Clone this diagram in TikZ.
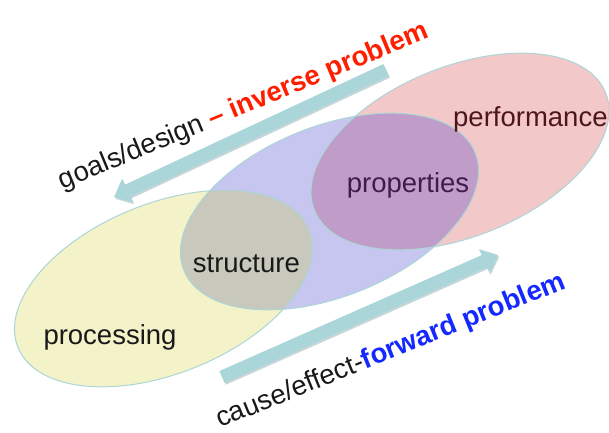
\documentclass[tikz,border=0pt]{standalone}
\usepackage{fontspec}
\setmainfont{Liberation Sans}
\usetikzlibrary{arrows.meta}
\definecolor{yellowE}{RGB}{243,242,200}
\definecolor{blueE}{RGB}{198,198,240}
\definecolor{redE}{RGB}{242,200,200}
\definecolor{greyE}{RGB}{200,200,188}
\definecolor{purpleE}{RGB}{192,156,200}
\definecolor{edgeE}{RGB}{172,214,214}
\definecolor{arrowE}{RGB}{170,214,218}
\definecolor{arrowS}{RGB}{130,165,170}
\definecolor{redT}{RGB}{255,30,0}
\definecolor{blueT}{RGB}{20,40,255}
\definecolor{textK}{RGB}{25,25,25}
\definecolor{textP}{RGB}{62,28,78}
\definecolor{textR}{RGB}{78,22,26}
\begin{document}
\begin{tikzpicture}[x=1pt,y=1pt,
  lbl/.style={inner sep=0pt, anchor=base west, font=\fontsize{27.5}{33}\selectfont},
  ellY/.style={rotate around={22:(163.5,143.5)}},
  ellB/.style={rotate around={22:(329.5,220.5)}},
  ellR/.style={rotate around={22:(460,280.5)}},
  rim/.style={draw=edgeE, line width=1pt},
  bigarrow/.style={line width=13pt, -{Triangle[width=25pt,length=15pt]}}]
\useasboundingbox (0,0) rectangle (609,432);
% fills
\fill[yellowE, ellY] (163.5,143.5) ellipse [x radius=157pt, y radius=85pt];
\fill[blueE, ellB] (329.5,220.5) ellipse [x radius=157pt, y radius=85pt];
\fill[redE, ellR] (460,280.5) ellipse [x radius=157pt, y radius=85pt];
% overlaps
\begin{scope}
  \clip[ellY] (163.5,143.5) ellipse [x radius=157pt, y radius=85pt];
  \fill[greyE, ellB] (329.5,220.5) ellipse [x radius=157pt, y radius=85pt];
\end{scope}
\begin{scope}
  \clip[ellB] (329.5,220.5) ellipse [x radius=157pt, y radius=85pt];
  \fill[purpleE, ellR] (460,280.5) ellipse [x radius=157pt, y radius=85pt];
\end{scope}
% outlines
\draw[rim, ellY] (163.5,143.5) ellipse [x radius=157pt, y radius=85pt];
\draw[rim, ellB] (329.5,220.5) ellipse [x radius=157pt, y radius=85pt];
\draw[rim, ellR] (460,280.5) ellipse [x radius=157pt, y radius=85pt];
% arrows
\coordinate (invTail) at (386,362);
\coordinate (invTip) at (114,235);
\coordinate (fwdTail) at (222,55);
\coordinate (fwdTip) at (498,177);
\draw[bigarrow, arrowS, opacity=0.45, transform canvas={shift={(1.2pt,-1.8pt)}}] (invTail) -- (invTip);
\draw[bigarrow, arrowS, opacity=0.45, transform canvas={shift={(1.2pt,-1.8pt)}}] (fwdTail) -- (fwdTip);
\draw[bigarrow, arrowE] (invTail) -- (invTip);
\draw[bigarrow, arrowE] (fwdTail) -- (fwdTip);
% labels
\node[lbl, text=textK] (processing) at (43.3,88) {processing};
\node[lbl, text=textK] (structure) at (192.7,159.3) {structure};
\node[lbl, text=textP] (properties) at (346.7,239.3) {properties};
\node[lbl, text=textR] (performance) at (453,305.3) {performance};
\node[lbl, text=textK, rotate=22.5] (inverse) at (62.8,242.4) {goals/design \textcolor{redT}{\bfseries – inverse problem}};
\node[lbl, text=textK, rotate=22] (forward) at (220,4) {cause/effect-\textcolor{blueT}{\bfseries forward problem}};
\end{tikzpicture}
\end{document}
